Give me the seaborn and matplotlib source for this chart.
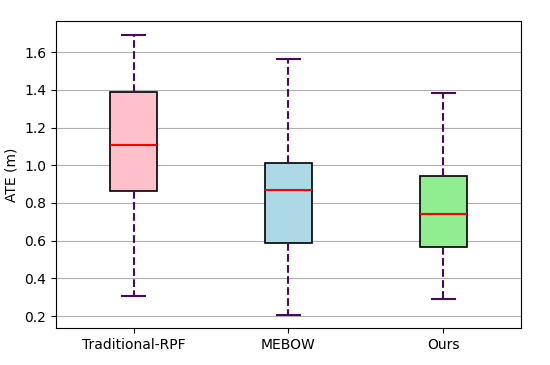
import matplotlib
matplotlib.use("Agg")
import matplotlib.pyplot as plt
import seaborn as sns
import pandas as pd
import numpy as np

categories = ["Traditional-RPF", "MEBOW", "Ours"]
# five-number summaries: min, q1, median, q3, max
trad = [0.306, 0.863, 1.107, 1.388, 1.690]
mebow = [0.205, 0.587, 0.866, 1.011, 1.563]
ours = [0.290, 0.566, 0.741, 0.942, 1.382]
box_colors = ["pink", "lightblue", "lightgreen"]

rows = []
for cat, vals in zip(categories, [trad, mebow, ours]):
    for v in vals:
        rows.append({"Method": cat, "ATE": v})
df = pd.DataFrame(rows)

fig, ax = plt.subplots(figsize=(5.5, 3.65), dpi=100)
wcol = "#4B0860"
sns.boxplot(data=df, x="Method", y="ATE", hue="Method", palette=box_colors,
            order=categories, hue_order=categories, legend=False,
            width=0.3, whis=np.inf, ax=ax, saturation=1,
            boxprops=dict(edgecolor="black", linewidth=1.2),
            medianprops=dict(color="red", linewidth=1.5),
            whiskerprops=dict(color=wcol, linestyle="--", linewidth=1.5),
            capprops=dict(color=wcol, linewidth=1.5),
            showfliers=False)
ax.set_xlim(-0.5, 2.5)
ax.set_ylim(0.136, 1.764)
ax.yaxis.grid(True, color="#b0b0b0", linewidth=0.8)
ax.set_axisbelow(True)
ax.set_xlabel("")
ax.set_ylabel("ATE (m)")
ax.set_yticks([0.2, 0.4, 0.6, 0.8, 1.0, 1.2, 1.4, 1.6])
fig.subplots_adjust(left=0.102, right=0.947, top=0.942, bottom=0.101)
fig.savefig("out.png", dpi=100)
